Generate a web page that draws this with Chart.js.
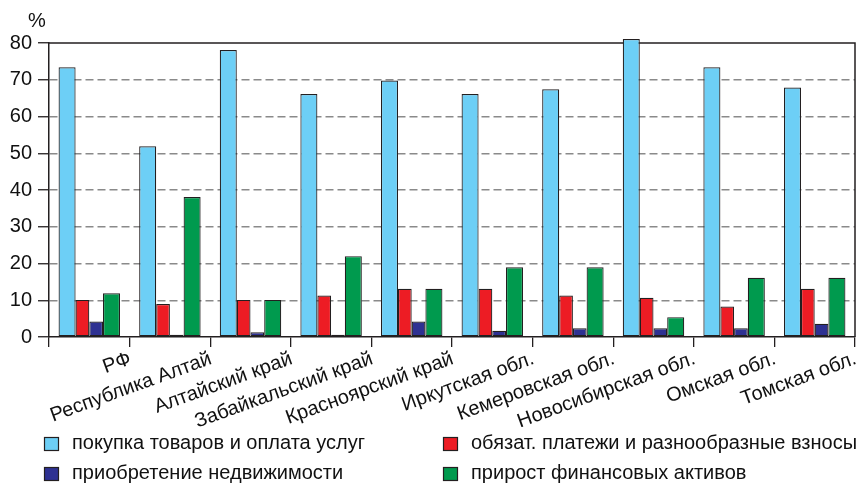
<!DOCTYPE html>
<html>
<head>
<meta charset="utf-8">
<script src="https://cdn.jsdelivr.net/npm/chart.js@4"></script>
<style>
  body { margin: 0; background: #fff; }
  #wrap { width: 858px; height: 483px; position: relative; }
</style>
</head>
<body>
<div id="wrap"><canvas id="myChart"></canvas></div>
<script>
const regions = ["РФ", "Республика Алтай", "Алтайский край", "Забайкальский край", "Красноярский край",
  "Иркутская обл.", "Кемеровская обл.", "Новосибирская обл.", "Омская обл.", "Томская обл."];

const purchases = [73.4, 51.9, 78.1, 66.1, 69.8, 66.1, 67.4, 81.1, 73.4, 67.9];
const payments = [10.1, 9.0, 10.1, 11.3, 13.1, 13.1, 11.3, 10.7, 8.3, 13.1];
const realty = [4.2, 0.6, 1.3, 0.6, 4.2, 1.7, 2.4, 2.4, 2.4, 3.6];
const assets = [11.9, 38.1, 10.1, 22.0, 13.1, 19.0, 19.0, 5.4, 16.1, 16.1];

const yTicks = [0, 10, 20, 30, 40, 50, 60, 70, 80];

const seriesNames = [
  "покупка товаров и оплата услуг",
  "обязат. платежи и разнообразные взносы",
  "приобретение недвижимости",
  "прирост финансовых активов",
];

const FONT = "'Liberation Sans', Arial, sans-serif";
const ink = "#231f20";

const ctx = document.getElementById("myChart").getContext("2d");

// outer bars of each group are wider than the inner two
const makeSet = (label, data, color, wide) => ({
  label: label,
  data: data,
  backgroundColor: color,
  borderColor: ink,
  borderWidth: 1.2,
  borderSkipped: false,
  categoryPercentage: wide ? 0.735 : 0.68,
  barPercentage: wide ? 1.15 : 1.0,
  clip: false,
});

const framePlugin = {
  id: "frame",
  beforeDatasetsDraw(chart) {
    const { ctx, chartArea: a } = chart;
    ctx.save();
    ctx.strokeStyle = ink;
    ctx.lineWidth = 1.5;
    ctx.beginPath();
    ctx.moveTo(a.left, a.top);
    ctx.lineTo(a.right, a.top);
    ctx.lineTo(a.right, a.bottom);
    ctx.stroke();
    ctx.restore();
  },
  afterDraw(chart) {
    const { ctx } = chart;
    ctx.save();
    ctx.fillStyle = "#111";
    ctx.font = "20px " + FONT;
    ctx.textAlign = "center";
    ctx.textBaseline = "alphabetic";
    ctx.fillText("%", 37, 27);

    // legend in two columns
    const spots = [[44, 437], [443, 437], [44, 467], [443, 467]];
    spots.forEach(([x, y], i) => {
      const ds = chart.data.datasets[i];
      ctx.fillStyle = ds.backgroundColor;
      ctx.fillRect(x, y, 15, 14);
      ctx.strokeStyle = ink;
      ctx.lineWidth = 1.2;
      ctx.strokeRect(x + 0.5, y + 0.5, 14, 13);
      ctx.fillStyle = "#111";
      ctx.textAlign = "left";
      ctx.fillText(ds.label, x + 28, y + 12);
    });
    ctx.restore();
  },
};

new Chart(ctx, {
  type: "bar",
  data: {
    labels: regions,
    datasets: [
      makeSet(seriesNames[0], purchases, "#6dcff6", true),
      makeSet(seriesNames[1], payments, "#ed1c24", false),
      makeSet(seriesNames[2], realty, "#2e3192", false),
      makeSet(seriesNames[3], assets, "#009a4e", true),
    ],
  },
  options: {
    responsive: true,
    maintainAspectRatio: false,
    animation: false,
    layout: { padding: { left: 0, right: 3, top: 43, bottom: 56 } },
    plugins: {
      legend: { display: false },
      tooltip: { enabled: false },
    },
    scales: {
      x: {
        afterFit: (scale) => { scale.height = 90; },
        grid: {
          offset: true,
          drawOnChartArea: false,
          tickLength: 10,
          color: ink,
          lineWidth: 1.3,
        },
        border: { color: ink, width: 1.5 },
        ticks: {
          autoSkip: false,
          maxRotation: 20,
          minRotation: 20,
          labelOffset: 41,
          padding: 0,
          color: "#111",
          font: { family: FONT, size: 20 },
        },
      },
      y: {
        min: 0,
        max: 80,
        afterFit: (scale) => { scale.width = 49; },
        afterBuildTicks: (scale) => { scale.ticks = yTicks.map(v => ({ value: v })); },
        grid: {
          color: (c) => (c.tick && (c.tick.value === 0 || c.tick.value === 80)) ? "rgba(0,0,0,0)" : "#8a8a8a",
          lineWidth: 1.5,
          tickColor: ink,
          tickLength: 11,
          tickWidth: 1.3,
          tickBorderDash: [],
        },
        border: { color: ink, width: 1.5, dash: [8, 4] },
        ticks: {
          padding: 6,
          color: "#111",
          font: { family: FONT, size: 20 },
        },
      },
    },
  },
  plugins: [framePlugin],
});
</script>
</body>
</html>
